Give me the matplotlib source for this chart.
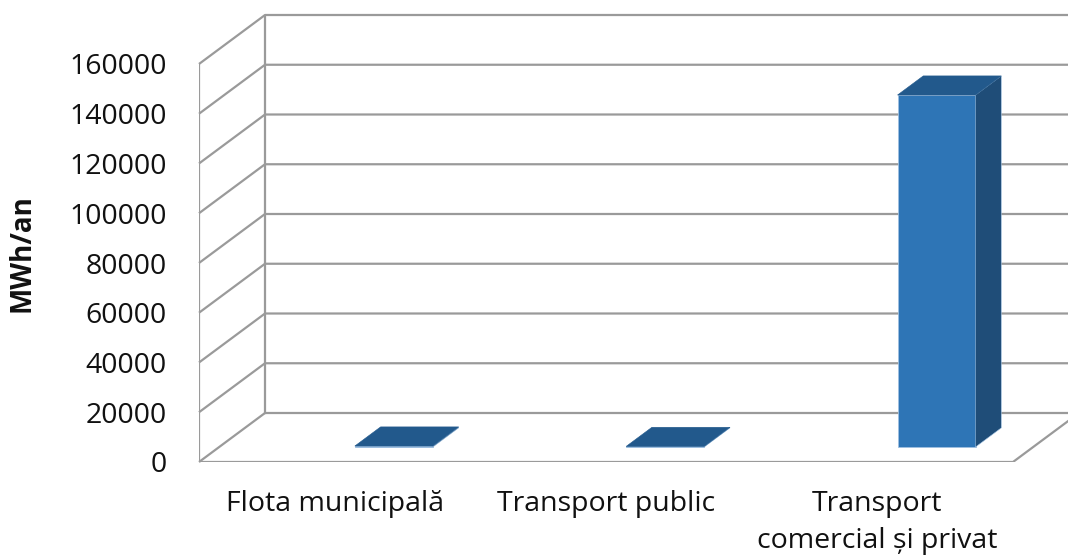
import numpy as np
import matplotlib.pyplot as plt
from matplotlib.patches import Polygon

categories = ["Flota municipală", "Transport public", "Transport\ncomercial și privat"]
values = [400, 250, 141500]
yticks = [0, 20000, 40000, 60000, 80000, 100000, 120000, 140000, 160000]
ylabel = "MWh/an"

plt.rcParams['font.family'] = ['Open Sans', 'DejaVu Sans']

W, H = 1068, 557
fig = plt.figure(figsize=(W / 100, H / 100), dpi=100)

# front plane: x 0..3 spans 199..1013 px, y 0..160000 spans 462..64 px
slot = 271.33
left_px, base_px, top_px = 199, 462, 15
ax = fig.add_axes([left_px / W, (H - base_px) / H, (W - left_px) / W, (base_px - top_px) / H])
xmax = (W - left_px) / slot
px_per_val = 49.75 / 20000
ymax = (base_px - top_px) / px_per_val
ax.set_xlim(0, xmax)
ax.set_ylim(0, ymax)
for s in ax.spines.values():
    s.set_visible(False)

# depth offset of the oblique projection
dx = 66 / slot
dy = 49 / px_per_val
grid_c = "#9a9a9a"
lw = 1.6

# gridlines: front diagonal + back wall
for v in yticks:
    ax.plot([0, dx, xmax], [v, v + dy, v + dy], color=grid_c, lw=lw, clip_on=False,
            solid_capstyle='butt', zorder=1)
# front left edge and back left edge
ax.plot([0, 0], [0, yticks[-1]], color=grid_c, lw=lw, zorder=1)
ax.plot([dx, dx], [dy, yticks[-1] + dy], color=grid_c, lw=lw, zorder=1)
# floor front edge
n = len(categories)
ax.plot([0, n, n + dx], [0, 0, dy], color=grid_c, lw=lw, zorder=1, clip_on=True)

# bars
front_c = "#2e75b6"
side_c = "#1f4d78"
top_c = "#22598c"
edge_c = "#9fc0e0"
f = 0.306      # front face depth position
bd = 0.39      # bar depth
bw = 0.2875    # bar width
for i, v in enumerate(values):
    x0 = i + 0.5 + f * dx
    x1 = x0 + bw
    b = f * dy
    t = b + v
    ox, oy = bd * dx, bd * dy
    ax.add_patch(Polygon([(x0, b), (x1, b), (x1, t), (x0, t)], closed=True,
                         facecolor=front_c, edgecolor=edge_c, lw=0.6, zorder=3))
    ax.add_patch(Polygon([(x1, b), (x1 + ox, b + oy), (x1 + ox, t + oy), (x1, t)], closed=True,
                         facecolor=side_c, edgecolor=edge_c, lw=0.4, zorder=3))
    ax.add_patch(Polygon([(x0, t), (x1, t), (x1 + ox, t + oy), (x0 + ox, t + oy)], closed=True,
                         facecolor=top_c, edgecolor=top_c, lw=0.4, zorder=4))

ax.set_yticks(yticks)
ax.set_yticklabels([str(v) for v in yticks], fontsize=20.5, color="#111111")
ax.set_xticks(np.arange(n) + 0.5)
ax.set_xticklabels(categories, fontsize=20.5, color="#111111", linespacing=1.45)
ax.tick_params(axis='y', length=0, pad=23)
ax.tick_params(axis='x', length=0, pad=20)

fig.text(22 / W, 1 - 253 / H, ylabel, rotation=90, ha='center', va='center',
         fontsize=20, fontweight='bold', color="#111111")

fig.savefig("out.png", dpi=100)
